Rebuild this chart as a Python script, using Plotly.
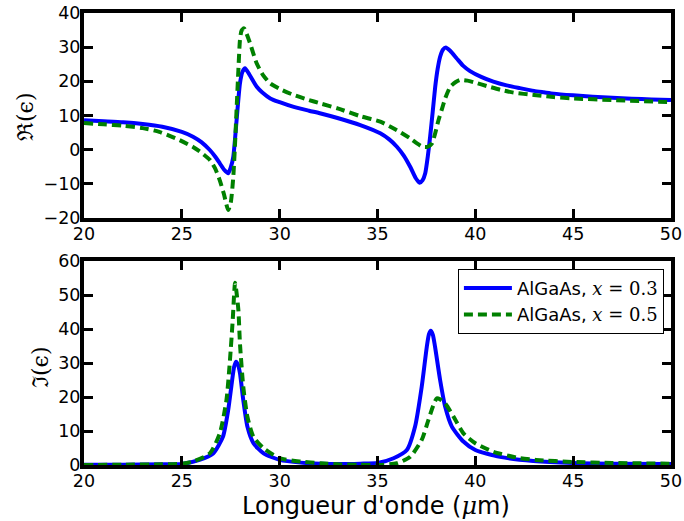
import plotly.graph_objects as go
from plotly.subplots import make_subplots

# ---- data ----
# Real part, AlGaAs x=0.3
re03_x = [20, 21, 22, 23, 24, 25, 25.57, 26, 26.43, 26.7, 26.94, 27.15, 27.37, 27.5, 27.63, 27.8,
          27.97, 28.1, 28.23, 28.45, 28.83, 29.1, 29.52, 30, 30.72, 31.5, 32.1, 33, 34.12, 35.14,
          35.6, 35.99, 36.35, 36.67, 36.95, 37.15, 37.3, 37.44, 37.57, 37.69, 37.82, 37.95, 38.07,
          38.2, 38.35, 38.49, 38.7, 39.05, 39.37, 39.73, 40.3, 40.92, 41.6, 42.28, 43, 43.5, 44,
          45, 46, 47, 48, 49, 50]
re03_y = [8.6, 8.3, 8.0, 7.5, 6.7, 5.2, 3.8, 2.2, -0.1, -2.0, -4.0, -5.8, -6.9, -5.2, -2.1, 8.7,
          19.4, 22.8, 23.8, 22.0, 18.4, 16.8, 15.0, 13.9, 12.5, 11.4, 10.6, 9.2, 7.2, 4.8,
          3.0, 0.85, -1.8, -5.0, -8.3, -9.7, -9.0, -6.9, -2.0, 3.8, 11.0, 18.4, 23.5,
          27.2, 29.3, 29.9, 29.0, 26.7, 24.6, 23.0, 21.3, 19.9, 18.8, 18.0, 17.2, 16.8, 16.4,
          15.9, 15.5, 15.2, 14.9, 14.7, 14.5]

# Real part, AlGaAs x=0.5
re05_x = [20, 21, 22, 23, 23.85, 24.88, 25.57, 26, 26.43, 26.7, 26.94, 27.15, 27.37, 27.5, 27.63,
          27.72, 27.8, 27.89, 27.97, 28.05, 28.18, 28.32, 28.49, 28.83, 29.15, 29.52, 30.1, 30.72,
          31.4, 32.1, 33, 34.12, 35.14, 35.99, 36.67, 37.0, 37.3, 37.55, 37.78, 37.95, 38.12, 38.3,
          38.46, 38.72, 39.0, 39.23, 39.6, 40.0, 40.59, 41.3, 41.95, 43, 43.5, 44, 45, 47, 50]
re05_y = [7.8, 7.4, 7.0, 6.3, 5.2, 2.8, 0.8, -0.9, -3.0, -5.5, -9.0, -13.0, -17.7, -15.5, -8.0,
          1.8, 12.0, 23.3, 32.0, 34.8, 35.5, 33.8, 31.1, 25.2, 21.8, 19.4, 17.5, 16.0,
          14.7, 13.5, 12.0, 9.8, 8.2, 5.7, 3.3, 1.9, 0.85, 0.8, 1.8, 4.8, 8.7, 12.0,
          15.0, 18.4, 19.8, 20.4, 20.2, 19.6, 18.6, 17.5, 16.7, 16.0, 15.7, 15.4, 15.0, 14.5, 13.9]

# Imaginary part, AlGaAs x=0.3
im03_x = [20, 22, 24, 25, 25.9, 26.6, 27.1, 27.37, 27.55, 27.67, 27.77, 27.87, 27.97, 28.14, 28.35,
          28.66, 29.18, 30, 31.07, 32.1, 33, 34.12, 35, 35.82, 36.5, 36.92, 37.26, 37.52, 37.63,
          37.72, 37.83, 37.94, 38.2, 38.46, 38.8, 39.39, 40, 41.26, 42.96, 45, 47, 50]
im03_y = [0.1, 0.1, 0.2, 0.3, 1.5, 3.4, 8.3, 16.2, 24.0, 28.8, 30.4, 29.5, 27.0, 19.1, 11.3,
          6.4, 3.4, 1.5, 0.7, 0.4, 0.3, 0.4, 0.6, 2.0, 4.4, 11.3, 23.0, 34.8, 38.5,
          39.5, 38.3, 34.8, 25.0, 17.1, 11.3, 6.9, 4.4, 2.4, 1.2, 0.6, 0.4, 0.3]

# Imaginary part, AlGaAs x=0.5
im05_x = [20, 22, 24, 25, 25.57, 26.43, 26.94, 27.28, 27.46, 27.6, 27.67, 27.72, 27.78, 27.89,
          27.97, 28.14, 28.35, 28.66, 29.18, 30, 31.07, 32.1, 33, 34, 35, 35.99, 36.67, 37.26,
          37.6, 37.85, 38.03, 38.2, 38.46, 38.89, 39.39, 40, 40.92, 42.28, 43.1, 45, 47, 50]
im05_y = [0.0, 0.1, 0.2, 0.4, 1.0, 3.4, 9.3, 19.1, 30.9, 42.6, 50.0, 53.6, 51.5, 45.6,
          35.8, 23.0, 14.2, 8.3, 4.9, 2.0, 1.0, 0.5, 0.2, 0.1, 0.0, 0.5, 2.4, 7.4,
          13.2, 17.5, 19.6, 19.3, 18.1, 14.2, 9.3, 6.4, 3.9, 2.0, 1.5, 0.9, 0.6, 0.4]

x_ticks = [20, 25, 30, 35, 40, 45, 50]
re_ticks = [-20, -10, 0, 10, 20, 30, 40]
im_ticks = [0, 10, 20, 30, 40, 50, 60]

MATH = "DejaVu Serif"
series_names = [
    "AlGaAs, <i style='font-family:%s'>x</i><span style='font-family:%s'> = 0.3</span>" % (MATH, MATH),
    "AlGaAs, <i style='font-family:%s'>x</i><span style='font-family:%s'> = 0.5</span>" % (MATH, MATH),
]

BLUE = "#0000ff"
GREEN = "#008000"
FONT = "DejaVu Sans"
LW = 4
DASH = "9px,5px"

fig = make_subplots(rows=2, cols=1, vertical_spacing=0.09)

line_kw = dict(mode="lines", line_shape="spline")
fig.add_trace(go.Scatter(x=re03_x, y=re03_y, line=dict(color=BLUE, width=LW, smoothing=0.6),
                         showlegend=False, **line_kw), row=1, col=1)
fig.add_trace(go.Scatter(x=re05_x, y=re05_y, line=dict(color=GREEN, width=LW, dash=DASH, smoothing=0.6),
                         showlegend=False, **line_kw), row=1, col=1)
fig.add_trace(go.Scatter(x=im03_x, y=im03_y, line=dict(color=BLUE, width=LW, smoothing=0.6),
                         name=series_names[0], **line_kw), row=2, col=1)
fig.add_trace(go.Scatter(x=im05_x, y=im05_y, line=dict(color=GREEN, width=LW, dash=DASH, smoothing=0.6),
                         name=series_names[1], **line_kw), row=2, col=1)

axis_common = dict(showgrid=False, zeroline=False, showline=True, linecolor="black", linewidth=4,
                   mirror="ticks", ticks="inside", ticklen=9, tickwidth=3, tickcolor="black",
                   automargin=False,
                   tickfont=dict(family=FONT, size=17.5, color="black"))

fig.update_xaxes(range=[20, 50], tickvals=x_ticks, ticktext=[str(v) for v in x_ticks],
                 ticklabelstandoff=-3, **axis_common)
fig.update_yaxes(range=[-20, 40], tickvals=re_ticks, ticklabelstandoff=-4, **axis_common, row=1, col=1)
fig.update_yaxes(range=[0, 60], tickvals=im_ticks, ticklabelstandoff=-4, **axis_common, row=2, col=1)

fig.update_layout(
    width=684, height=521,
    margin=dict(l=84, r=13, t=13, b=56),
    paper_bgcolor="white", plot_bgcolor="white",
    font=dict(family=FONT, color="black"),
    legend=dict(x=0.637, y=0.434, xanchor="left", yanchor="top",
                bgcolor="white", bordercolor="black", borderwidth=1,
                itemwidth=48,
                font=dict(family=FONT, size=18, color="black")),
    annotations=[
        dict(text="Longueur d'onde (<i style='font-family:%s'>\u03bc</i>m)" % MATH,
             xref="paper", yref="paper", x=0.497, y=-0.09, showarrow=False,
             xanchor="center", yanchor="middle", font=dict(family=FONT, size=24, color="black")),
        dict(text="\u211c(\u03f5)", xref="paper", yref="paper", x=-0.0988, y=0.77,
             showarrow=False, textangle=-90, xanchor="center", yanchor="middle",
             font=dict(family=MATH, size=22, color="black")),
        dict(text="\u2111(\u03f5)", xref="paper", yref="paper", x=-0.075, y=0.2168,
             showarrow=False, textangle=-90, xanchor="center", yanchor="middle",
             font=dict(family=MATH, size=22, color="black")),
    ],
)
fig.layout.yaxis.domain = [0.5465, 1.0]
fig.layout.yaxis2.domain = [0.0, 0.4513]

fig.write_html("out.html", config={"displayModeBar": False},
               post_script="document.body.style.margin='0';document.body.style.padding='0';")
